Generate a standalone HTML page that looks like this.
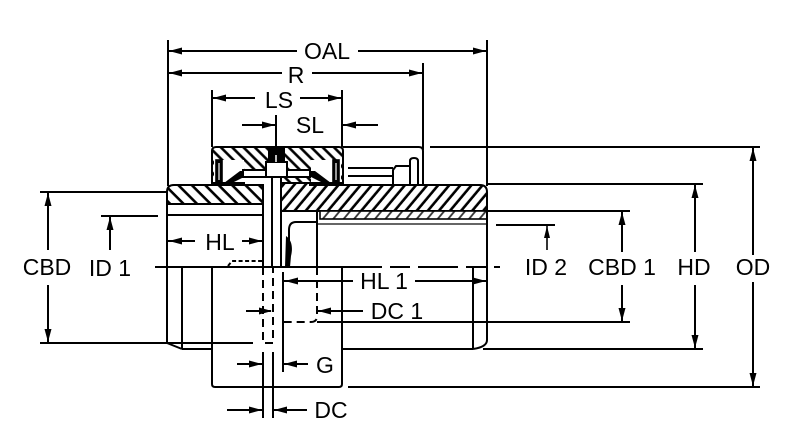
<!DOCTYPE html>
<html><head><meta charset="utf-8">
<style>
html,body{margin:0;padding:0;background:#fff;}
svg{display:block;}
text{font-family:"Liberation Sans",Arial,sans-serif;font-size:23px;fill:#000;text-anchor:middle;}
</style></head><body>
<svg width="800" height="437" viewBox="0 0 800 437" xmlns="http://www.w3.org/2000/svg">
<defs>
<pattern id="hA" patternUnits="userSpaceOnUse" width="8" height="8" patternTransform="rotate(-45)"><rect width="8" height="8" fill="#fff"/><line x1="4" y1="0" x2="4" y2="8" stroke="#000" stroke-width="2.6"/></pattern>
<pattern id="hL" patternUnits="userSpaceOnUse" width="9.5" height="9.5" patternTransform="rotate(-45)"><rect width="9.5" height="9.5" fill="#fff"/><line x1="4.7" y1="0" x2="4.7" y2="9.5" stroke="#000" stroke-width="2.6"/></pattern>
<pattern id="hR" patternUnits="userSpaceOnUse" width="8.5" height="8.5" patternTransform="rotate(40)"><rect width="8.5" height="8.5" fill="#fff"/><line x1="4.2" y1="0" x2="4.2" y2="8.5" stroke="#000" stroke-width="2.6"/></pattern>
<pattern id="hB" patternUnits="userSpaceOnUse" width="8" height="8" patternTransform="rotate(40)"><rect width="8" height="8" fill="#fff"/><line x1="4" y1="0" x2="4" y2="8" stroke="#333" stroke-width="1.8"/></pattern>
</defs>

<g stroke="#000" stroke-width="2" fill="none">
<line x1="168" y1="40" x2="168" y2="186"/>
<line x1="487" y1="40" x2="487" y2="186"/>
<line x1="423" y1="63" x2="423" y2="150"/>
<line x1="212" y1="90" x2="212" y2="147"/>
<line x1="342" y1="90" x2="342" y2="147"/>
<line x1="276" y1="115" x2="276" y2="148"/>
<line x1="168" y1="51" x2="297" y2="51"/>
<line x1="358" y1="51" x2="487" y2="51"/>
<line x1="168" y1="73" x2="282" y2="73"/>
<line x1="312" y1="73" x2="423" y2="73"/>
<line x1="212" y1="98" x2="255" y2="98"/>
<line x1="300" y1="98" x2="342" y2="98"/>
<line x1="242" y1="125" x2="276" y2="125"/>
<line x1="342" y1="125" x2="378" y2="125"/>

<line x1="430" y1="147" x2="760" y2="147"/>
<line x1="348" y1="387" x2="760" y2="387"/>
<line x1="487" y1="184" x2="703" y2="184"/>
<line x1="483" y1="349" x2="703" y2="349"/>
<line x1="281" y1="211" x2="630" y2="211"/>
<line x1="317" y1="322" x2="630" y2="322"/>
<line x1="496" y1="225" x2="555" y2="225"/>
<line x1="753" y1="147" x2="753" y2="255"/>
<line x1="753" y1="282" x2="753" y2="387"/>
<line x1="695" y1="184" x2="695" y2="252"/>
<line x1="695" y1="285" x2="695" y2="349"/>
<line x1="622" y1="211" x2="622" y2="252"/>
<line x1="622" y1="285" x2="622" y2="322"/>
<line x1="547" y1="225" x2="547" y2="250" stroke-width="1.6"/>

<line x1="40" y1="192" x2="167" y2="192"/>
<line x1="40" y1="343" x2="253" y2="343"/>
<line x1="48" y1="192" x2="48" y2="250"/>
<line x1="48" y1="285" x2="48" y2="343"/>
<line x1="101" y1="216" x2="158" y2="216"/>
<line x1="110" y1="216" x2="110" y2="250"/>
</g>

<path d="M281,177 H310 V185 H480 Q487,185 487,192 V211 H281 Z" fill="url(#hR)" stroke="#000" stroke-width="2"/>
<rect x="320" y="211" width="167" height="8" fill="url(#hB)" stroke="#000" stroke-width="1.6"/>
<line x1="317" y1="224" x2="487" y2="224" stroke="#333" stroke-width="1.6"/>

<path d="M212,183 V151 Q212,147 216,147 H339 Q343,147 343,151 V183 Z" fill="url(#hA)" stroke="#000" stroke-width="2"/>
<rect x="214" y="160" width="30" height="23" fill="#fff"/>
<rect x="311" y="160" width="30" height="23" fill="#fff"/>
<rect x="244" y="177" width="28" height="8" fill="#fff"/>
<g stroke="#000" stroke-width="1.6">
<rect x="216" y="160" width="6" height="23" fill="#000"/>
<line x1="219" y1="163" x2="219" y2="180" stroke="#fff" stroke-width="1.2"/>
<rect x="333" y="160" width="6" height="23" fill="#000"/>
<line x1="336" y1="163" x2="336" y2="180" stroke="#fff" stroke-width="1.2"/>
</g>
<polygon points="224,183 240,171 244,171 244,177 232,183" fill="#000"/>
<polygon points="331,183 315,171 311,171 311,177 323,183" fill="#000"/>
<line x1="212" y1="183" x2="245" y2="183" stroke="#000" stroke-width="2"/>
<line x1="310" y1="183" x2="343" y2="183" stroke="#000" stroke-width="2"/>
<rect x="243" y="170" width="67" height="7" fill="#fff" stroke="#000" stroke-width="2"/>
<rect x="266" y="162" width="21" height="15" fill="#fff" stroke="#000" stroke-width="2"/>
<rect x="268" y="147" width="17" height="16" fill="#000"/>
<line x1="276" y1="155" x2="276" y2="162" stroke="#fff" stroke-width="1.5"/>
<rect x="272" y="177" width="9" height="90" fill="#fff" stroke="#000" stroke-width="2"/>

<g stroke="#000" stroke-width="2" fill="none">
<path d="M343,147 H419 Q423,147 423,151 V185"/>
<line x1="348" y1="168" x2="393" y2="168"/>
<line x1="348" y1="176" x2="393" y2="176"/>
<path d="M393,185 V170 L396,166 H410 V185"/>
<path d="M410,185 V161 Q410,158 414,158 Q418,158 418,161 V185"/>
</g>

<path d="M167,192 Q167,185 174,185 H263 V204 H167 Z" fill="url(#hL)" stroke="#000" stroke-width="2"/>
<g stroke="#000" stroke-width="2" fill="none">
<line x1="167" y1="192" x2="167" y2="343"/>
<line x1="167" y1="343" x2="182" y2="349"/>
<line x1="182" y1="349" x2="212" y2="349"/>
<line x1="182" y1="267" x2="182" y2="349"/>
<line x1="167" y1="215" x2="263" y2="215"/>
<line x1="263" y1="185" x2="263" y2="267"/>
<line x1="155" y1="267" x2="342" y2="267"/>
<line x1="342" y1="267" x2="500" y2="267" stroke-dasharray="40 8 20 8"/>
<path d="M228,266 L232,261 H262" stroke-dasharray="4 2.5"/>

<line x1="317" y1="211" x2="317" y2="267"/>
<path d="M317,267 V316 Q317,322 311,322 H283" stroke-dasharray="8 5"/>
<path d="M487,192 V340 Q487,347 473,349"/>
<line x1="342" y1="349" x2="473" y2="349"/>
<line x1="473" y1="267" x2="473" y2="349"/>
<path d="M317,222 H296 Q289,222 289,230 V244"/>

<path d="M212,267 V384 Q212,387 215,387 H339 Q342,387 342,384 V267"/>

<path d="M263,267 V343 H273 V267" stroke-dasharray="8 5"/>
<line x1="263" y1="352" x2="263" y2="418"/>
<line x1="273" y1="352" x2="273" y2="418"/>
<line x1="283" y1="272" x2="283" y2="372"/>

<line x1="168" y1="241" x2="195" y2="241"/>
<line x1="242" y1="241" x2="262" y2="241"/>
<line x1="284" y1="281" x2="353" y2="281"/>
<line x1="415" y1="281" x2="486" y2="281"/>
<line x1="246" y1="311" x2="271" y2="311"/>
<line x1="318" y1="311" x2="363" y2="311"/>
<line x1="237" y1="364" x2="262" y2="364"/>
<line x1="284" y1="364" x2="308" y2="364"/>
<line x1="227" y1="410" x2="262" y2="410"/>
<line x1="274" y1="410" x2="307" y2="410"/>
</g>
<path d="M286,236 C292,240 293,248 291,256 L290,267 L285,267 Z" fill="#000"/>

<g fill="#000">
<polygon points="169,51 182,47.5 182,54.5"/>
<polygon points="486,51 473,47.5 473,54.5"/>
<polygon points="169,73 182,69.5 182,76.5"/>
<polygon points="422,73 409,69.5 409,76.5"/>
<polygon points="213,98 226,94.5 226,101.5"/>
<polygon points="341,98 328,94.5 328,101.5"/>
<polygon points="275,125 262,121.5 262,128.5"/>
<polygon points="343,125 356,121.5 356,128.5"/>
<polygon points="169,241 182,237.5 182,244.5"/>
<polygon points="262,241 249,237.5 249,244.5"/>
<polygon points="48,193 44.5,206 51.5,206"/>
<polygon points="48,342 44.5,329 51.5,329"/>
<polygon points="110,217 106.5,230 113.5,230"/>
<polygon points="285,281 298,277.5 298,284.5"/>
<polygon points="486,281 473,277.5 473,284.5"/>
<polygon points="272,311 259,307.5 259,314.5"/>
<polygon points="318,311 331,307.5 331,314.5"/>
<polygon points="262,364 249,360.5 249,367.5"/>
<polygon points="284,364 297,360.5 297,367.5"/>
<polygon points="262,410 249,406.5 249,413.5"/>
<polygon points="274,410 287,406.5 287,413.5"/>
<polygon points="547,226 544,238 550,238"/>
<polygon points="622,212 618.5,225 625.5,225"/>
<polygon points="622,321 618.5,308 625.5,308"/>
<polygon points="695,185 691.5,198 698.5,198"/>
<polygon points="695,348 691.5,335 698.5,335"/>
<polygon points="753,148 749.5,161 756.5,161"/>
<polygon points="753,386 749.5,373 756.5,373"/>
</g>

<text x="327" y="59">OAL</text>
<text x="296" y="83">R</text>
<text x="279" y="108">LS</text>
<text x="310" y="133">SL</text>
<text x="220" y="250">HL</text>
<text x="47" y="275">CBD</text>
<text x="110" y="276">ID 1</text>
<text x="384" y="289">HL 1</text>
<text x="397" y="319">DC 1</text>
<text x="325" y="373">G</text>
<text x="331" y="418">DC</text>
<text x="546" y="275">ID 2</text>
<text x="622" y="275">CBD 1</text>
<text x="694" y="275">HD</text>
<text x="753" y="275">OD</text>
</svg>
</body></html>
